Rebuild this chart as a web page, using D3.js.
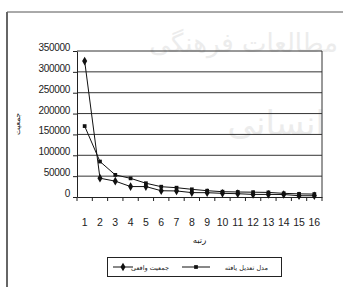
<!DOCTYPE html>
<html><head><meta charset="utf-8">
<script src="https://cdn.jsdelivr.net/npm/d3@7/dist/d3.min.js"></script>
<style>body{margin:0;background:#fff}svg{display:block}</style>
</head><body>
<script>
const ranks = ["1","2","3","4","5","6","7","8","9","10","11","12","13","14","15","16"];
const actualPop = [326000,45000,38000,25000,25000,15000,14500,10500,10300,8800,7900,6200,6200,6000,3000,3000];
const modelPop = [170000,85000,53000,44700,33000,24700,22300,18400,15100,12700,12000,11500,11000,8800,7500,7000];
const yTicks = [0,50000,100000,150000,200000,250000,300000,350000];
const seriesNames = ["جمعیت واقعی","مدل تعدیل یافته"];
const xTitle = "رتبه";
const yTitle = "جمعیت";

const W = 343, H = 287;
const svg = d3.select("body").append("svg").attr("width", W).attr("height", H);
const font = "'DejaVu Sans', 'Liberation Sans', sans-serif";

// faint watermark from the scanned page
const wm = svg.append("g").attr("fill", "#ececec").attr("font-family", font);
wm.append("text").attr("x", 338).attr("y", 52).attr("text-anchor", "end")
  .attr("font-size", 26).text("مطالعات فرهنگی");
wm.append("text").attr("x", 325).attr("y", 135).attr("text-anchor", "end")
  .attr("font-size", 34).text("انسانی");

// frame
svg.append("line").attr("x1", 7).attr("x2", W).attr("y1", 12).attr("y2", 12).attr("stroke", "#555").attr("stroke-width", 1);
svg.append("line").attr("x1", 7).attr("x2", 7).attr("y1", 12).attr("y2", H).attr("stroke", "#666").attr("stroke-width", 2);

const L = 77, R = 322, T = 51, B = 197;
const x = d3.scaleBand().domain(ranks).range([L, R]).padding(0);
const y = d3.scaleLinear().domain([0, 350000]).range([B, T]);

// gridlines
svg.append("g").selectAll("line").data(yTicks.filter(d => d > 0)).join("line")
  .attr("x1", L).attr("x2", R).attr("y1", d => y(d)).attr("y2", d => y(d))
  .attr("stroke", "#333").attr("stroke-width", 1);
// right border
svg.append("line").attr("x1", R).attr("x2", R).attr("y1", T).attr("y2", B).attr("stroke", "#333");

// y axis
const yAxis = svg.append("g").attr("transform", `translate(${L},0)`)
  .call(d3.axisLeft(y).tickValues(yTicks).tickSize(4).tickSizeOuter(0).tickFormat(d3.format("d")));
yAxis.select(".domain").attr("stroke", "#222");
yAxis.selectAll(".tick line").attr("stroke", "#222");
yAxis.selectAll(".tick text").attr("font-family", "'Liberation Sans', Arial, sans-serif")
  .attr("font-size", 10).attr("fill", "#222").attr("x", -7).attr("dy", "-0.05em")
  .attr("letter-spacing", "-0.3");

// x axis
const xAxis = svg.append("g").attr("transform", `translate(0,${B})`)
  .call(d3.axisBottom(x).tickSize(0).tickSizeOuter(0));
xAxis.select(".domain").attr("stroke", "#222");
xAxis.selectAll(".tick text").attr("font-family", "'Liberation Sans', Arial, sans-serif")
  .attr("font-size", 10.5).attr("fill", "#222").attr("y", 22).attr("dy", "0.71em");
// tick marks between categories
const bounds = ranks.map(r => x(r)).concat([x(ranks[ranks.length - 1]) + x.bandwidth()]);
svg.append("g").selectAll("line").data(bounds).join("line")
  .attr("x1", d => d).attr("x2", d => d).attr("y1", B).attr("y2", B + 4).attr("stroke", "#222");

// titles
svg.append("text").attr("x", (L + R) / 2).attr("y", 243).attr("text-anchor", "middle")
  .attr("font-family", font).attr("font-size", 8.5).attr("fill", "#222").text(xTitle);
svg.append("text").attr("transform", "translate(20,124) rotate(-90)").attr("text-anchor", "middle")
  .attr("font-family", font).attr("font-size", 7.5).attr("fill", "#222").text(yTitle);

// lines
const cx = d => x(d) + x.bandwidth() / 2;
const line = d3.line().x(d => cx(d[0])).y(d => y(d[1]));
const dataA = ranks.map((r, i) => [r, actualPop[i]]);
const dataM = ranks.map((r, i) => [r, modelPop[i]]);
svg.append("path").attr("d", line(dataM)).attr("fill", "none").attr("stroke", "#111").attr("stroke-width", 1);
svg.append("path").attr("d", line(dataA)).attr("fill", "none").attr("stroke", "#111").attr("stroke-width", 1);

const diamond = d3.symbol().type(d3.symbolDiamond).size(22);
const square = d3.symbol().type(d3.symbolSquare).size(14);
svg.append("g").selectAll("path").data(dataA).join("path")
  .attr("d", diamond).attr("transform", d => `translate(${cx(d[0])},${y(d[1])})`).attr("fill", "#111");
svg.append("g").selectAll("path").data(dataM).join("path")
  .attr("d", square).attr("transform", d => `translate(${cx(d[0])},${y(d[1])})`).attr("fill", "#111");

// legend
const lg = svg.append("g");
lg.append("rect").attr("x", 107.5).attr("y", 257.5).attr("width", 174).attr("height", 19)
  .attr("fill", "#fff").attr("stroke", "#222").attr("stroke-width", 1);
const ly = 267;
const entries = [
  {x0: 113, x1: 133, tx: 169, sym: diamond, name: seriesNames[0]},
  {x0: 182, x1: 210, tx: 268, sym: square, name: seriesNames[1]}
];
entries.forEach(e => {
  lg.append("line").attr("x1", e.x0).attr("x2", e.x1).attr("y1", ly).attr("y2", ly).attr("stroke", "#111");
  lg.append("path").attr("d", e.sym).attr("transform", `translate(${(e.x0 + e.x1) / 2},${ly})`).attr("fill", "#111");
  lg.append("text").attr("x", e.tx).attr("y", ly + 2.5).attr("text-anchor", "end")
    .attr("font-family", font).attr("font-size", 6.5).attr("fill", "#222").text(e.name);
});
</script>
</body></html>
